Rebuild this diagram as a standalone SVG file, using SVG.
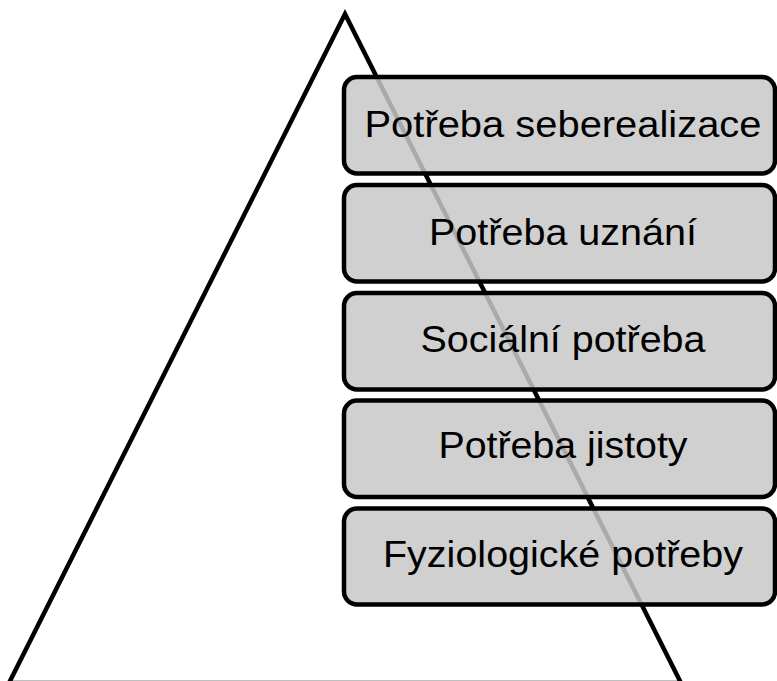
<svg xmlns="http://www.w3.org/2000/svg" width="777" height="681" viewBox="0 0 777 681">
<style>
.tri{fill:none;stroke:#000;stroke-width:4.5;stroke-linejoin:miter}
.box{fill:#c8c8c8;fill-opacity:0.85;stroke:#000;stroke-width:4.5}
.lbl{font-family:"Liberation Sans",Arial,sans-serif;font-size:36px;fill:#000;text-anchor:middle}
</style>
<rect width="777" height="681" fill="#fff"/>
<g id="pyramid">
<polygon class="tri" points="345,14 681,683 9,683"/>
</g>
<g id="connectors"></g>
<g id="n1"><rect class="box" x="344" y="77" width="431" height="96.5" rx="13"/><text class="lbl" x="563" y="136.5" textLength="397" lengthAdjust="spacingAndGlyphs">Potřeba seberealizace</text></g>
<g id="n2"><rect class="box" x="344" y="185" width="431" height="96.5" rx="13"/><text class="lbl" x="563" y="245" textLength="268" lengthAdjust="spacingAndGlyphs">Potřeba uznání</text></g>
<g id="n3"><rect class="box" x="344" y="293" width="431" height="96.5" rx="13"/><text class="lbl" x="563" y="352" textLength="285" lengthAdjust="spacingAndGlyphs">Sociální potřeba</text></g>
<g id="n4"><rect class="box" x="344" y="400.5" width="431" height="96.5" rx="13"/><text class="lbl" x="563" y="458" textLength="249" lengthAdjust="spacingAndGlyphs">Potřeba jistoty</text></g>
<g id="n5"><rect class="box" x="344" y="508.5" width="431" height="96" rx="13"/><text class="lbl" x="563" y="567" textLength="360" lengthAdjust="spacingAndGlyphs">Fyziologické potřeby</text></g>
</svg>
